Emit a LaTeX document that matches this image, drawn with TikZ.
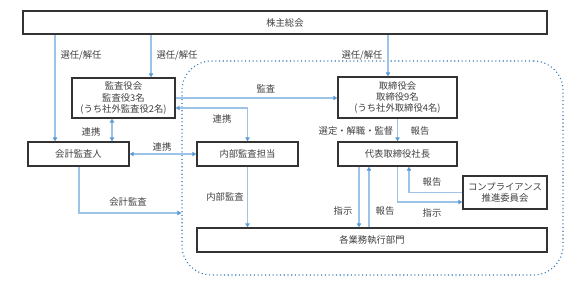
\documentclass[tikz,border=0pt]{standalone}
\usepackage{fontspec}
\newfontfamily\jpfont{Noto Sans CJK JP}
\usetikzlibrary{arrows.meta,calc}
\definecolor{linkblue}{HTML}{9DC3E6}
\definecolor{tipblue}{HTML}{5B9BD5}
\definecolor{zoneblue}{HTML}{2E75B6}
\definecolor{txtgray}{HTML}{404040}

\begin{document}
\begin{tikzpicture}[x=0.75pt,y=-0.75pt,>={Triangle[length=3pt,width=3.2pt,color=tipblue]},
  box/.style={draw=black!80,line width=0.9pt,fill=white,inner sep=0pt,align=center},
  link/.style={draw=linkblue,line width=0.8pt,->},
  both/.style={link,<->},
  every node/.append style={font=\jpfont\fontsize{7}{8.5}\selectfont,text=txtgray}]
  \useasboundingbox (0,0) rectangle (587,304);
  \node[draw=zoneblue,dotted,line width=0.8pt,rounded corners=22pt,minimum width=285.75pt,minimum height=160.5pt] (zone) at (372.5,168) {};

  \node[box,minimum width=393pt,minimum height=17.25pt] (soukai) at (285,22.5) {株主総会};
  \node[box,minimum width=77.25pt,minimum height=30pt] (kansa) at (123.5,98) {監査役会\\監査役3名\\(うち社外監査役2名)};
  \node[box,minimum width=75.75pt,minimum height=18pt] (kaikei) at (78.5,154) {会計監査人};
  \node[box,minimum width=75.75pt,minimum height=18pt] (naibu) at (247.5,154) {内部監査担当};
  \node[box,minimum width=89.25pt,minimum height=30.75pt] (torishimari) at (397.5,97.5) {取締役会\\取締役9名\\(うち社外取締役4名)};
  \node[box,minimum width=89.25pt,minimum height=18pt] (shacho) at (397.5,154) {代表取締役社長};
  \node[box,minimum width=63pt,minimum height=24.75pt] (comp) at (505,192.5) {コンプライアンス\\推進委員会};
  \node[box,minimum width=262.5pt,minimum height=18pt] (gyomu) at (372,240) {各業務執行部門};

  \coordinate (p1) at ($(kaikei.north)+(-23.5,0)$);
  \draw[link] (p1 |- soukai.south) -- (p1);
  \coordinate (p2) at ($(kansa.north)+(27.5,0)$);
  \draw[link] (p2 |- soukai.south) -- (p2);
  \coordinate (p3) at ($(torishimari.north)+(-9.5,0)$);
  \draw[link] (p3 |- soukai.south) -- (p3);
  \draw[link] (kansa.east) -- (kansa.east -| torishimari.west);
  \draw[both] ($(kansa.east)+(0,10)$) -| (naibu.north);
  \coordinate (p4) at ($(kansa.south)+(-11.5,0)$);
  \draw[both] (p4) -- (p4 |- kaikei.north);
  \draw[both] (kaikei.east) -- (naibu.west);
  \draw[link] ($(kaikei.south)+(0.5,0)$) |- ($(zone.west)+(0,45)$);
  \draw[link] (naibu.south) -- (naibu.south |- gyomu.north);
  \draw[link] (torishimari.south) -- (shacho.north);
  \coordinate (p5) at ($(shacho.south)+(-38.5,0)$);
  \draw[link] (p5) -- (p5 |- gyomu.north);
  \coordinate (p6) at ($(shacho.south)+(-28.5,0)$);
  \draw[link] (p6 |- gyomu.north) -- (p6);
  \draw[link] (comp.west) -| ($(shacho.south)+(11.5,0)$);
  \draw[link] (shacho.south) |- ($(comp.west)+(0,9.5)$);

  \node (sennin1) at (81,55) {選任/解任};
  \node (sennin2) at (177,55) {選任/解任};
  \node (sennin3) at (362,55) {選任/解任};
  \node (kansalbl) at (266,89) {監査};
  \node (renkei1) at (222,119) {連携};
  \node (renkei2) at (91,132) {連携};
  \node (renkei3) at (162,147) {連携};
  \node (kaikeilbl) at (128,202) {会計監査};
  \node (naibulbl) at (225,197) {内部監査};
  \node (sentei) at (356,131) {選定・解職・監督};
  \node (houkoku1) at (420,131) {報告};
  \node (shiji1) at (343,211) {指示};
  \node (houkoku2) at (385,211) {報告};
  \node (houkoku3) at (432,182) {報告};
  \node (shiji2) at (432,213) {指示};
\end{tikzpicture}
\end{document}
